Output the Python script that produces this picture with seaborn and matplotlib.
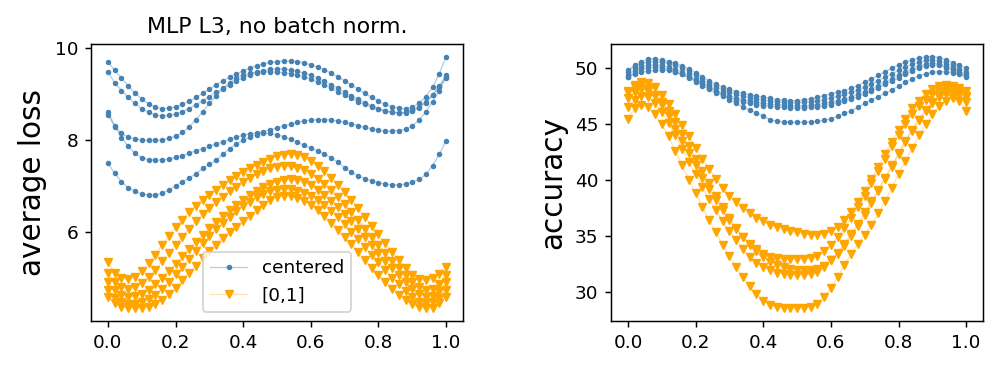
import numpy as np
import pandas as pd
import matplotlib
matplotlib.use("Agg")
import matplotlib.pyplot as plt
import seaborn as sns


# sampling grid (51 evaluation points between 0 and 1)
x = np.linspace(0, 1, 51)

# ---- average loss, centered inputs ----
loss_c1 = [9.70, 9.52, 9.35, 9.18, 9.03, 8.90, 8.79, 8.72, 8.69, 8.70, 8.73, 8.78, 8.85, 8.93, 9.02, 9.11, 9.20,
           9.29, 9.37, 9.44, 9.51, 9.57, 9.62, 9.66, 9.69, 9.71, 9.72, 9.72, 9.71, 9.68, 9.64, 9.59, 9.53, 9.46,
           9.38, 9.29, 9.20, 9.11, 9.02, 8.93, 8.85, 8.78, 8.73, 8.70, 8.69, 8.72, 8.80, 8.95, 9.15, 9.45, 9.82]
loss_c2 = [9.48, 9.25, 9.08, 8.93, 8.80, 8.69, 8.61, 8.55, 8.53, 8.54, 8.57, 8.62, 8.69, 8.77, 8.86, 8.95, 9.04,
           9.13, 9.21, 9.29, 9.36, 9.42, 9.47, 9.51, 9.54, 9.55, 9.55, 9.53, 9.50, 9.46, 9.41, 9.35, 9.28, 9.21,
           9.13, 9.05, 8.97, 8.89, 8.82, 8.75, 8.69, 8.64, 8.61, 8.59, 8.60, 8.63, 8.70, 8.82, 8.98, 9.18, 9.42]
loss_c3 = [8.62, 8.32, 8.15, 8.07, 8.03, 8.01, 8.00, 8.00, 8.01, 8.04, 8.09, 8.17, 8.29, 8.45, 8.62, 8.80, 8.97,
           9.12, 9.25, 9.35, 9.42, 9.46, 9.48, 9.49, 9.49, 9.48, 9.47, 9.45, 9.42, 9.38, 9.33, 9.27, 9.20, 9.13,
           9.05, 8.98, 8.91, 8.84, 8.78, 8.72, 8.67, 8.63, 8.61, 8.60, 8.61, 8.65, 8.73, 8.84, 8.98, 9.16, 9.38]
loss_c4 = [8.55, 8.30, 8.06, 7.87, 7.72, 7.62, 7.58, 7.57, 7.57, 7.59, 7.63, 7.67, 7.72, 7.77, 7.82, 7.87, 7.92,
           7.97, 8.02, 8.07, 8.11, 8.14, 8.16, 8.19, 8.23, 8.27, 8.31, 8.35, 8.39, 8.42, 8.44, 8.45, 8.45, 8.44,
           8.42, 8.39, 8.36, 8.32, 8.28, 8.25, 8.22, 8.20, 8.20, 8.21, 8.24, 8.31, 8.44, 8.62, 8.84, 9.08, 9.36]
loss_c5 = [7.50, 7.28, 7.10, 6.97, 6.89, 6.84, 6.81, 6.81, 6.85, 6.92, 7.01, 7.10, 7.18, 7.27, 7.39, 7.48, 7.57,
           7.70, 7.82, 7.92, 8.00, 8.07, 8.12, 8.15, 8.15, 8.12, 8.08, 8.02, 7.96, 7.89, 7.83, 7.77, 7.71, 7.62,
           7.52, 7.41, 7.31, 7.23, 7.17, 7.12, 7.08, 7.05, 7.03, 7.03, 7.05, 7.09, 7.15, 7.26, 7.45, 7.70, 7.99]

# ---- average loss, [0,1] inputs ----
loss_u1 = [5.36, 5.12, 5.00, 4.98, 5.04, 5.16, 5.33, 5.52, 5.72, 5.92, 6.11, 6.28, 6.44, 6.58, 6.71, 6.82, 6.93,
           7.03, 7.13, 7.22, 7.31, 7.39, 7.47, 7.54, 7.60, 7.65, 7.69, 7.70, 7.68, 7.63, 7.55, 7.45, 7.33, 7.19,
           7.04, 6.88, 6.71, 6.53, 6.34, 6.15, 5.96, 5.77, 5.58, 5.40, 5.23, 5.08, 4.98, 4.96, 5.00, 5.10, 5.25]
loss_u2 = [5.12, 4.92, 4.81, 4.78, 4.81, 4.90, 5.03, 5.19, 5.37, 5.55, 5.73, 5.91, 6.08, 6.24, 6.39, 6.53, 6.66,
           6.78, 6.89, 6.99, 7.09, 7.18, 7.26, 7.33, 7.39, 7.43, 7.45, 7.44, 7.41, 7.35, 7.27, 7.17, 7.05, 6.92,
           6.77, 6.61, 6.44, 6.26, 6.08, 5.90, 5.72, 5.55, 5.38, 5.22, 5.07, 4.93, 4.81, 4.75, 4.77, 4.88, 5.08]
loss_u3 = [4.93, 4.74, 4.64, 4.60, 4.61, 4.66, 4.75, 4.87, 5.01, 5.16, 5.32, 5.48, 5.64, 5.80, 5.95, 6.09, 6.23,
           6.36, 6.48, 6.60, 6.71, 6.81, 6.90, 6.98, 7.05, 7.10, 7.14, 7.15, 7.13, 7.09, 7.02, 6.93, 6.82, 6.69,
           6.55, 6.40, 6.24, 6.07, 5.90, 5.73, 5.56, 5.39, 5.23, 5.07, 4.92, 4.78, 4.66, 4.60, 4.61, 4.72, 4.92]
loss_u4 = [4.75, 4.58, 4.49, 4.45, 4.45, 4.48, 4.55, 4.65, 4.78, 4.93, 5.09, 5.26, 5.43, 5.60, 5.76, 5.92, 6.07,
           6.21, 6.34, 6.46, 6.57, 6.67, 6.76, 6.83, 6.89, 6.93, 6.95, 6.94, 6.91, 6.86, 6.79, 6.70, 6.59, 6.47,
           6.33, 6.18, 6.02, 5.86, 5.69, 5.52, 5.35, 5.18, 5.02, 4.87, 4.73, 4.60, 4.50, 4.46, 4.48, 4.58, 4.76]
loss_u5 = [4.60, 4.46, 4.39, 4.36, 4.35, 4.36, 4.39, 4.45, 4.54, 4.66, 4.80, 4.96, 5.12, 5.28, 5.44, 5.59, 5.73,
           5.87, 6.00, 6.12, 6.24, 6.36, 6.48, 6.60, 6.70, 6.77, 6.80, 6.79, 6.75, 6.68, 6.59, 6.48, 6.35, 6.21,
           6.06, 5.90, 5.74, 5.57, 5.40, 5.23, 5.07, 4.92, 4.78, 4.65, 4.54, 4.45, 4.38, 4.35, 4.37, 4.46, 4.60]

# ---- accuracy, centered inputs ----
acc_c1 = [49.8, 50.3, 50.6, 50.8, 50.8, 50.75, 50.6, 50.45, 50.2, 49.95, 49.6, 49.25, 48.85, 48.55, 48.3, 48.1,
          47.9, 47.75, 47.6, 47.5, 47.4, 47.3, 47.2, 47.15, 47.1, 47.1, 47.15, 47.25, 47.4, 47.55, 47.7, 47.85,
          48.0, 48.2, 48.45, 48.75, 49.05, 49.35, 49.7, 50.0, 50.3, 50.55, 50.75, 50.9, 51.0, 51.05, 50.95,
          50.75, 50.5, 50.25, 50.0]
acc_c2 = [49.7, 50.15, 50.4, 50.55, 50.6, 50.55, 50.45, 50.25, 50.0, 49.7, 49.35, 48.95, 48.6, 48.3, 48.05,
          47.85, 47.65, 47.5, 47.35, 47.25, 47.15, 47.05, 47.0, 46.95, 46.9, 46.9, 46.95, 47.0, 47.1, 47.2, 47.35,
          47.5, 47.65, 47.85, 48.05, 48.3, 48.6, 48.9, 49.2, 49.5, 49.8, 50.1, 50.35, 50.55, 50.7, 50.75, 50.65,
          50.45, 50.2, 49.95, 49.7]
acc_c3 = [49.4, 49.85, 50.1, 50.25, 50.3, 50.25, 50.1, 49.9, 49.65, 49.35, 49.0, 48.65, 48.3, 48.0, 47.75,
          47.55, 47.35, 47.2, 47.05, 46.95, 46.85, 46.8, 46.75, 46.7, 46.65, 46.65, 46.65, 46.7, 46.75, 46.85,
          46.95, 47.1, 47.25, 47.45, 47.65, 47.9, 48.15, 48.45, 48.75, 49.05, 49.35, 49.65, 49.95, 50.2, 50.4,
          50.45, 50.4, 50.2, 49.95, 49.7, 49.45]
acc_c4 = [49.2, 49.6, 49.9, 50.05, 50.1, 50.05, 49.9, 49.7, 49.45, 49.15, 48.8, 48.45, 48.1, 47.8, 47.55,
          47.35, 47.15, 47.0, 46.85, 46.75, 46.65, 46.6, 46.55, 46.5, 46.45, 46.45, 46.45, 46.5, 46.55, 46.65,
          46.75, 46.9, 47.05, 47.25, 47.45, 47.7, 47.95, 48.25, 48.55, 48.85, 49.15, 49.45, 49.75, 50.0, 50.2,
          50.3, 50.25, 50.05, 49.8, 49.55, 49.3]
acc_c5 = [49.2, 49.5, 49.65, 49.75, 49.8, 49.85, 49.8, 49.65, 49.45, 49.2, 48.95, 48.65, 48.35, 48.0, 47.6,
          47.2, 46.85, 46.55, 46.25, 46.0, 45.7, 45.4, 45.25, 45.2, 45.15, 45.15, 45.15, 45.2, 45.25, 45.35,
          45.5, 45.7, 45.95, 46.2, 46.5, 46.85, 47.15, 47.45, 47.75, 48.05, 48.4, 48.75, 49.05, 49.3, 49.5,
          49.65, 49.7, 49.7, 49.6, 49.45, 49.25]

# ---- accuracy, [0,1] inputs ----
acc_u1 = [48.0, 48.5, 48.8, 48.7, 48.3, 47.6, 46.8, 45.9, 44.9, 43.9, 42.9, 41.9, 41.0, 40.1, 39.3, 38.6, 38.0,
          37.5, 37.0, 36.6, 36.3, 36.0, 35.8, 35.6, 35.4, 35.3, 35.2, 35.1, 35.1, 35.2, 35.4, 35.8, 36.4, 37.1,
          38.0, 39.0, 40.1, 41.2, 42.3, 43.4, 44.5, 45.5, 46.4, 47.1, 47.7, 48.1, 48.4, 48.5, 48.4, 48.2, 48.0]
acc_u2 = [47.9, 48.3, 48.4, 48.1, 47.5, 46.7, 45.7, 44.6, 43.5, 42.4, 41.3, 40.2, 39.2, 38.2, 37.3, 36.4, 35.6,
          34.9, 34.3, 33.8, 33.4, 33.1, 33.0, 32.9, 32.9, 32.9, 32.9, 33.0, 33.2, 33.6, 34.2, 34.9, 35.7, 36.6,
          37.6, 38.6, 39.7, 40.8, 41.9, 43.0, 44.0, 45.0, 45.9, 46.6, 47.2, 47.7, 48.0, 48.2, 48.2, 47.9, 47.5]
acc_u3 = [47.3, 47.9, 48.1, 48.0, 47.6, 47.0, 46.2, 45.2, 44.1, 43.0, 41.9, 40.8, 39.7, 38.6, 37.6, 36.6, 35.7,
          34.9, 34.2, 33.6, 33.1, 32.7, 32.4, 32.2, 32.0, 31.9, 31.9, 31.9, 32.0, 32.3, 32.8, 33.4, 34.1, 35.0,
          35.9, 36.9, 37.9, 39.0, 40.1, 41.2, 42.3, 43.4, 44.4, 45.4, 46.3, 47.0, 47.6, 48.0, 48.2, 48.0, 47.4]
acc_u4 = [46.5, 47.2, 47.5, 47.4, 46.9, 46.1, 45.1, 44.0, 42.8, 41.6, 40.5, 39.4, 38.3, 37.3, 36.3, 35.4, 34.6,
          33.8, 33.1, 32.6, 32.2, 31.9, 31.7, 31.6, 31.5, 31.5, 31.5, 31.6, 31.8, 32.2, 32.8, 33.5, 34.3, 35.2,
          36.1, 37.1, 38.1, 39.1, 40.2, 41.3, 42.4, 43.5, 44.5, 45.4, 46.2, 46.9, 47.4, 47.7, 47.8, 47.6, 47.0]
acc_u5 = [45.5, 46.4, 46.7, 46.5, 45.9, 45.0, 43.9, 42.6, 41.3, 40.0, 38.8, 37.6, 36.4, 35.3, 34.2, 33.2, 32.2,
          31.3, 30.5, 29.8, 29.2, 28.8, 28.6, 28.5, 28.5, 28.5, 28.5, 28.6, 28.9, 29.5, 30.3, 31.3, 32.4, 33.4,
          34.3, 35.1, 36.0, 37.0, 38.1, 39.3, 40.5, 41.7, 42.9, 44.0, 45.0, 45.9, 46.6, 47.1, 47.3, 47.1, 46.2]

loss_centered = [loss_c1, loss_c2, loss_c3, loss_c4, loss_c5]
loss_unit = [loss_u1, loss_u2, loss_u3, loss_u4, loss_u5]
acc_centered = [acc_c1, acc_c2, acc_c3, acc_c4, acc_c5]
acc_unit = [acc_u1, acc_u2, acc_u3, acc_u4, acc_u5]

blue = "steelblue"
orange = "orange"
blue_line = matplotlib.colors.to_rgba(blue, 0.4)
orange_line = matplotlib.colors.to_rgba(orange, 0.3)

fig, axes = plt.subplots(1, 2, figsize=(997 / 133, 369 / 133), dpi=133)
fig.subplots_adjust(left=0.0913, right=0.986, bottom=0.130, top=0.881, wspace=0.398)


def draw(ax, centered, unit):
    for i, ys in enumerate(centered):
        sns.lineplot(x=x, y=ys, ax=ax, color=blue_line, marker="o", markersize=2.2,
                     markerfacecolor=blue, markeredgecolor=blue, linewidth=0.7,
                     label="centered" if i == 0 else None, legend=False)
    for i, ys in enumerate(unit):
        sns.lineplot(x=x, y=ys, ax=ax, color=orange_line, marker="v", markersize=4.3,
                     markerfacecolor=orange, markeredgecolor=orange, linewidth=0.7,
                     label="[0,1]" if i == 0 else None, legend=False)


draw(axes[0], loss_centered, loss_unit)
draw(axes[1], acc_centered, acc_unit)

axes[0].set_title("MLP L3, no batch norm.")
axes[0].set_ylabel("average loss", fontsize=16)
axes[1].set_ylabel("accuracy", fontsize=16)
axes[0].set_yticks([6, 8, 10])
axes[1].set_yticks([30, 35, 40, 45, 50])
for ax in axes:
    ax.set_xticks([0.0, 0.2, 0.4, 0.6, 0.8, 1.0])

axes[0].legend(loc="lower center")

plt.savefig("out.png", dpi=133)
